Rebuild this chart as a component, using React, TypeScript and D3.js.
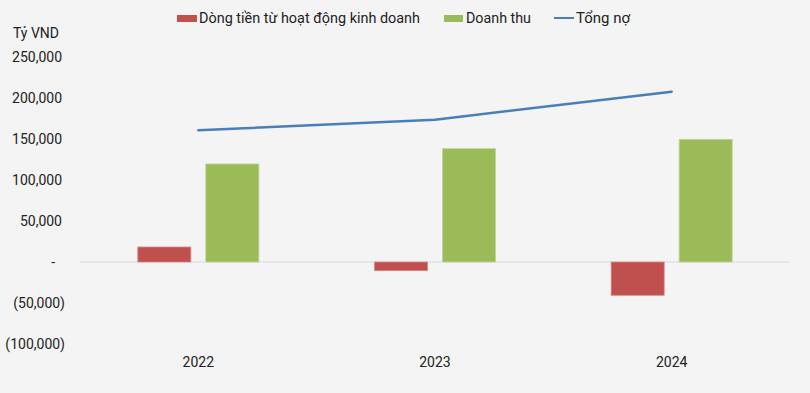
import React, { useEffect, useRef } from 'react';
import * as d3 from 'd3';

const years = ['2022', '2023', '2024'];
const cashFlow = [18300, -10600, -40600];   // Dòng tiền từ hoạt động kinh doanh
const revenue = [119500, 138200, 149600];   // Doanh thu
const totalDebt = [160600, 173500, 207700]; // Tổng nợ
const yTicks = [250000, 200000, 150000, 100000, 50000, 0, -50000, -100000];
const seriesNames = ['Dòng tiền từ hoạt động kinh doanh', 'Doanh thu', 'Tổng nợ'];

const RED = '#c0504d';
const GREEN = '#9bbb59';
const BLUE = '#4a7ebb';

const App: React.FC = () => {
  const ref = useRef<SVGSVGElement>(null);

  useEffect(() => {
    document.body.style.margin = '0';
    const svg = d3.select(ref.current);
    svg.selectAll('*').remove();

    const W = 810;
    const H = 393;
    const font = 'Roboto, sans-serif';

    svg.append('rect').attr('width', W).attr('height', H).attr('fill', '#f4f4f4');

    const x0 = d3.scaleBand<string>().domain(years).range([80, 790]);
    const x1 = d3
      .scaleBand<string>()
      .domain(['cash', 'rev'])
      .range([0, x0.bandwidth()])
      .paddingInner(0.22)
      .paddingOuter(0.85);

    const y = d3.scaleLinear().domain([-100000, 250000]).range([344, 57]);

    // y axis labels (accounting style)
    const fmt = d3.format(',');
    const yAxis = svg
      .append('g')
      .attr('transform', 'translate(66,0)')
      .call(
        d3
          .axisLeft(y)
          .tickValues(yTicks)
          .tickSize(0)
          .tickPadding(0)
          .tickFormat(d => {
            const v = +d;
            if (v === 0) return '-';
            return v < 0 ? `(${fmt(-v)})` : fmt(v);
          })
      );
    yAxis.select('.domain').remove();
    yAxis
      .selectAll<SVGTextElement, number>('text')
      .attr('x', d => (d === 0 ? -11 : d < 0 ? -1 : -4))
      .attr('font-family', font)
      .attr('font-size', 14)
      .attr('fill', '#222');

    // unit label
    svg
      .append('text')
      .attr('x', 13)
      .attr('y', 38)
      .attr('font-family', font)
      .attr('font-size', 14)
      .attr('fill', '#222')
      .text('Tỷ VND');

    // zero line
    svg
      .append('line')
      .attr('x1', 80)
      .attr('x2', 790)
      .attr('y1', y(0))
      .attr('y2', y(0))
      .attr('stroke', '#d9d9d9')
      .attr('stroke-width', 1);

    // bars
    const groups = svg
      .append('g')
      .selectAll('g')
      .data(years)
      .join('g')
      .attr('transform', d => `translate(${x0(d)},0)`);

    groups
      .append('rect')
      .attr('x', x1('cash')!)
      .attr('width', x1.bandwidth())
      .attr('y', (_, i) => y(Math.max(0, cashFlow[i])))
      .attr('height', (_, i) => Math.abs(y(cashFlow[i]) - y(0)))
      .attr('fill', RED)
      .attr('stroke', '#d98a88')
      .attr('stroke-width', 0.8);

    groups
      .append('rect')
      .attr('x', x1('rev')!)
      .attr('width', x1.bandwidth())
      .attr('y', (_, i) => y(Math.max(0, revenue[i])))
      .attr('height', (_, i) => Math.abs(y(revenue[i]) - y(0)))
      .attr('fill', GREEN)
      .attr('stroke', '#bdd495')
      .attr('stroke-width', 0.8);

    // debt line
    const line = d3
      .line<number>()
      .x((_, i) => x0(years[i])! + x0.bandwidth() / 2)
      .y(d => y(d))
      .curve(d3.curveLinear);

    svg
      .append('path')
      .datum(totalDebt)
      .attr('fill', 'none')
      .attr('stroke', BLUE)
      .attr('stroke-width', 2.5)
      .attr('stroke-linecap', 'round')
      .attr('stroke-linejoin', 'round')
      .attr('d', line);

    // x labels
    svg
      .append('g')
      .selectAll('text')
      .data(years)
      .join('text')
      .attr('x', d => x0(d)! + x0.bandwidth() / 2)
      .attr('y', 367)
      .attr('text-anchor', 'middle')
      .attr('font-family', font)
      .attr('font-size', 14)
      .attr('fill', '#222')
      .text(d => d);

    // legend
    const legend = svg.append('g').attr('font-family', font).attr('font-size', 14).attr('fill', '#222');
    const items = [
      { name: seriesNames[0], color: RED, type: 'rect', sx: 177, sw: 20, tx: 199, tw: 221 },
      { name: seriesNames[1], color: GREEN, type: 'rect', sx: 444, sw: 19, tx: 466, tw: 65 },
      { name: seriesNames[2], color: BLUE, type: 'line', sx: 554, sw: 20, tx: 576, tw: 54 },
    ];
    items.forEach(it => {
      if (it.type === 'rect') {
        legend
          .append('rect')
          .attr('x', it.sx)
          .attr('y', 15)
          .attr('width', it.sw)
          .attr('height', 7)
          .attr('fill', it.color);
      } else {
        legend
          .append('line')
          .attr('x1', it.sx)
          .attr('x2', it.sx + it.sw)
          .attr('y1', 18)
          .attr('y2', 18)
          .attr('stroke', it.color)
          .attr('stroke-width', 2);
      }
      legend
        .append('text')
        .attr('x', it.tx)
        .attr('y', 23)
        .attr('textLength', it.tw)
        .attr('lengthAdjust', 'spacingAndGlyphs')
        .text(it.name);
    });
  }, []);

  return <svg ref={ref} width={810} height={393} style={{ display: 'block' }} />;
};

export default App;
